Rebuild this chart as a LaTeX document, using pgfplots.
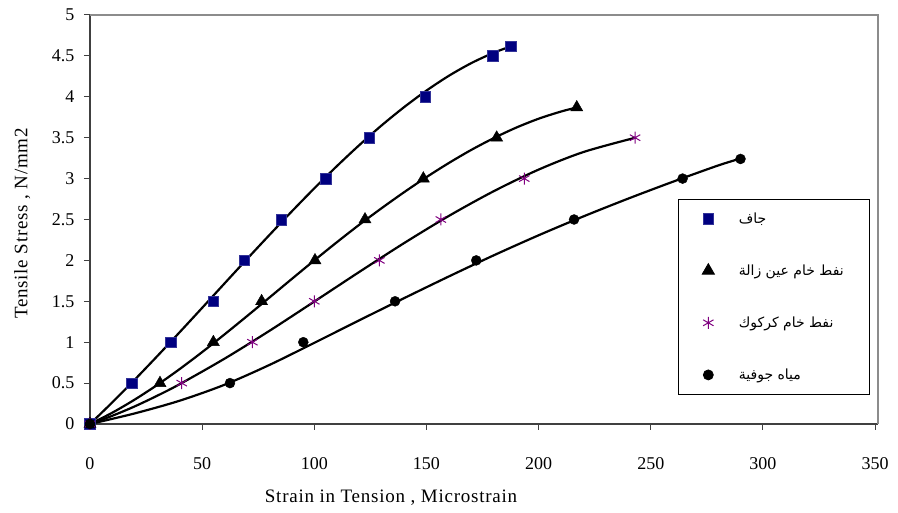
\documentclass[border=0pt]{standalone}
\usepackage{pgfplots}
\pgfplotsset{compat=1.18}
\usepackage{fontspec}
\setmainfont{Liberation Serif}
\newfontfamily\arabicfont[Script=Arabic]{DejaVu Sans}
\TeXXeTstate=1
\definecolor{navyc}{RGB}{0,0,128}
\definecolor{purpc}{RGB}{128,0,128}
\definecolor{darkax}{RGB}{64,64,64}
\definecolor{lightax}{RGB}{140,140,140}
\begin{document}
\begin{tikzpicture}
\path[use as bounding box] (0,0) rectangle (898pt,513pt);
\begin{axis}[
  at={(90pt,89pt)}, anchor=south west,
  scale only axis, width=788pt, height=409pt,
  xmin=0, xmax=351.3, ymin=0, ymax=5,
  xtick={0,50,...,350}, ytick={0,0.5,...,5},
  axis lines=left, axis line style={-, darkax, line width=1.2pt},
  tick align=outside, major tick length=6pt,
  tick style={darkax, line width=1pt},
  /pgf/number format/assume math mode=true,
  tick label style={font=\fontsize{18}{21}\selectfont},
  xticklabel style={yshift=-24pt},
  yticklabel style={xshift=-6pt},
  label style={font=\fontsize{19}{22}\selectfont\addfontfeatures{LetterSpace=4}},
  xlabel={Strain in Tension , Microstrain},
  ylabel={Tensile Stress , N/mm2},
  xlabel style={at={(axis description cs:0.382,-0.181)}, anchor=center},
  ylabel style={at={(axis description cs:-0.086,0.49)}, anchor=center},
  clip=false,
  legend cell align=left,
  legend style={at={(axis description cs:0.746,0.550)}, anchor=north west,
    draw=black, line width=0.8pt, fill=white,
    font=\arabicfont\fontsize{14}{16}\selectfont,
    inner xsep=24pt, inner ysep=11pt, row sep=36pt,
    /tikz/every odd column/.append style={column sep=22.5pt}},
]
\draw[lightax, line width=1.5pt] (rel axis cs:0,1) -- (rel axis cs:1,1) -- (rel axis cs:1,0);
% trend curves
\addplot[black, line width=2.2pt, smooth, forget plot] coordinates {
(0,0) (10,0.266) (20,0.5435) (30,0.830) (40,1.123) (50,1.420) (60,1.719) (70,2.017) (80,2.311) (90,2.600) (100,2.881) (110,3.151) (120,3.408) (130,3.650) (140,3.873) (150,4.076) (160,4.257) (170,4.412) (180,4.539) (187.7,4.617)};
\addplot[black, line width=2.2pt, smooth, forget plot] coordinates {
(0,0) (10,0.139) (20,0.2995) (30,0.478) (40,0.672) (50,0.879) (60,1.096) (70,1.319) (80,1.546) (90,1.774) (100,2.000) (110,2.221) (120,2.435) (130,2.638) (140,2.833) (150,3.018) (160,3.191) (170,3.351) (180,3.495) (190,3.623) (200,3.732) (210,3.820) (217,3.869)};
\addplot[black, line width=2.2pt, smooth, forget plot] coordinates {
(0,0) (10,0.101) (20,0.216) (30,0.346) (40,0.487) (60,0.799) (80,1.139) (100,1.497) (120,1.858) (140,2.211) (160,2.544) (180,2.846) (200,3.110) (220,3.325) (243,3.499)};
\addplot[black, line width=2.2pt, smooth, forget plot] coordinates {
(0,0) (20,0.13) (40,0.285) (60,0.48) (80,0.722) (100,0.992) (120,1.267) (140,1.538) (160,1.804) (180,2.062) (200,2.307) (220,2.538) (240,2.756) (260,2.963) (280,3.16) (290,3.245)};
% markers
\addplot[only marks, mark=square*, mark size=5.3pt, mark options={fill=navyc, draw=navyc!80!white, line width=0.5pt}] coordinates {
(0,0) (18.6,0.5) (36.0,1.0) (55.0,1.5) (68.8,2.0) (85.2,2.5) (105.1,3.0) (124.5,3.5) (149.4,4.0) (179.5,4.5) (187.7,4.62)};
\addlegendentry{\beginR جاف\endR}
\addplot[only marks, mark=triangle*, mark size=7pt, mark options={fill=black, draw=black}] coordinates {
(0,0) (31.2,0.5) (55.0,1.0) (76.5,1.5) (100.3,2.0) (122.6,2.5) (148.6,3.0) (181.3,3.5) (217,3.87)};
\addlegendentry{\beginR نفط خام عين زالة\endR}
\addplot[only marks, mark=asterisk, mark size=6pt, mark options={draw=purpc, line width=1pt}] coordinates {
(0,0) (40.9,0.5) (72.4,1.0) (100.0,1.5) (129.0,2.0) (156.4,2.5) (193.6,3.0) (243.0,3.5)};
\addlegendentry{\beginR نفط خام كركوك\endR}
\addplot[only marks, mark=*, mark size=5pt, mark options={fill=black, draw=black}] coordinates {
(0,0) (62.4,0.5) (95.1,1.0) (136.0,1.5) (172.2,2.0) (215.8,2.5) (264.2,3.0) (290.0,3.24)};
\addlegendentry{\beginR مياه جوفية\endR}
\end{axis}
\end{tikzpicture}
\end{document}
